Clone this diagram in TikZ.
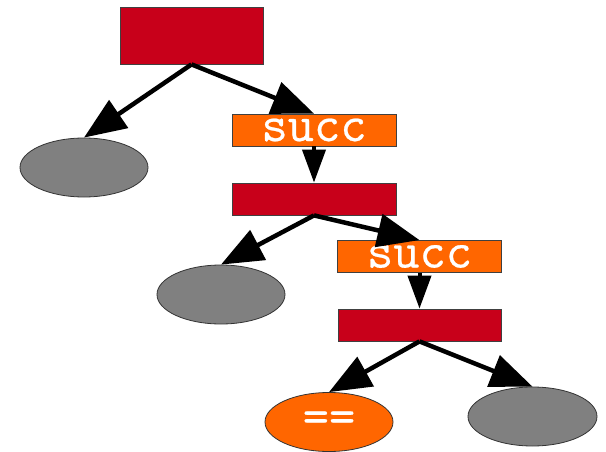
\documentclass[tikz,border=0pt]{standalone}
\usepackage{fontspec}
\newfontfamily\codefont[FakeBold=0.5]{Latin Modern Mono}
\usetikzlibrary{shapes.geometric,arrows.meta}
\definecolor{boxred}{HTML}{C8001A}
\definecolor{boxorange}{HTML}{FF6600}
\definecolor{leafgray}{HTML}{808080}
\tikzset{
  codetext/.style={text=white, font=\codefont\fontsize{51}{51}\selectfont},
  redbox/.style={rectangle, draw=black!75, line width=0.8pt, fill=boxred, inner sep=0pt},
  succbox/.style={rectangle, draw=black!75, line width=0.8pt, fill=boxorange, inner sep=0pt,
    minimum width=164pt, minimum height=32pt, codetext},
  leaf/.style={ellipse, draw=black!80, line width=0.8pt, fill=leafgray, inner sep=0pt,
    minimum width=128pt, minimum height=59pt},
  opleaf/.style={leaf, fill=boxorange, codetext},
  branch/.style={line width=4.5pt, -{Triangle[length=42pt,width=33pt]}},
  chain/.style={line width=4pt, -{Triangle[length=33pt,width=23pt]}},
}
\begin{document}
\begin{tikzpicture}[x=1pt,y=-1pt]
  \useasboundingbox (0,0) rectangle (606,452);
  % nodes
  \node[redbox, minimum width=143pt, minimum height=57pt] (r1) at (191.5,35.5) {};
  \node[leaf] (e1) at (84,167.5) {};
  \node[succbox] (s1) at (314,130) {succ};
  \node[redbox, minimum width=164pt, minimum height=32pt] (r2) at (314,199) {};
  \node[leaf] (e2) at (221,294.5) {};
  \node[succbox] (s2) at (419.5,256.5) {succ};
  \node[redbox, minimum width=163pt, minimum height=32pt] (r3) at (419.5,325) {};
  \node[opleaf] (eq) at (329,422) {==};
  \node[leaf, minimum width=129pt] (e4) at (532.5,416.5) {};
  % connectors
  \draw[branch] (r1.south) -- (e1.north);
  \draw[branch] (r1.south) -- (s1.north);
  \draw[chain] (s1.south) -- (r2.north);
  \draw[branch] (r2.south) -- (e2.north);
  \draw[branch] (r2.south) -- (s2.north);
  \draw[chain] (s2.south) -- (r3.north);
  \draw[branch] (r3.south) -- (eq.north);
  \draw[branch] (r3.south) -- (e4.north);
\end{tikzpicture}
\end{document}
